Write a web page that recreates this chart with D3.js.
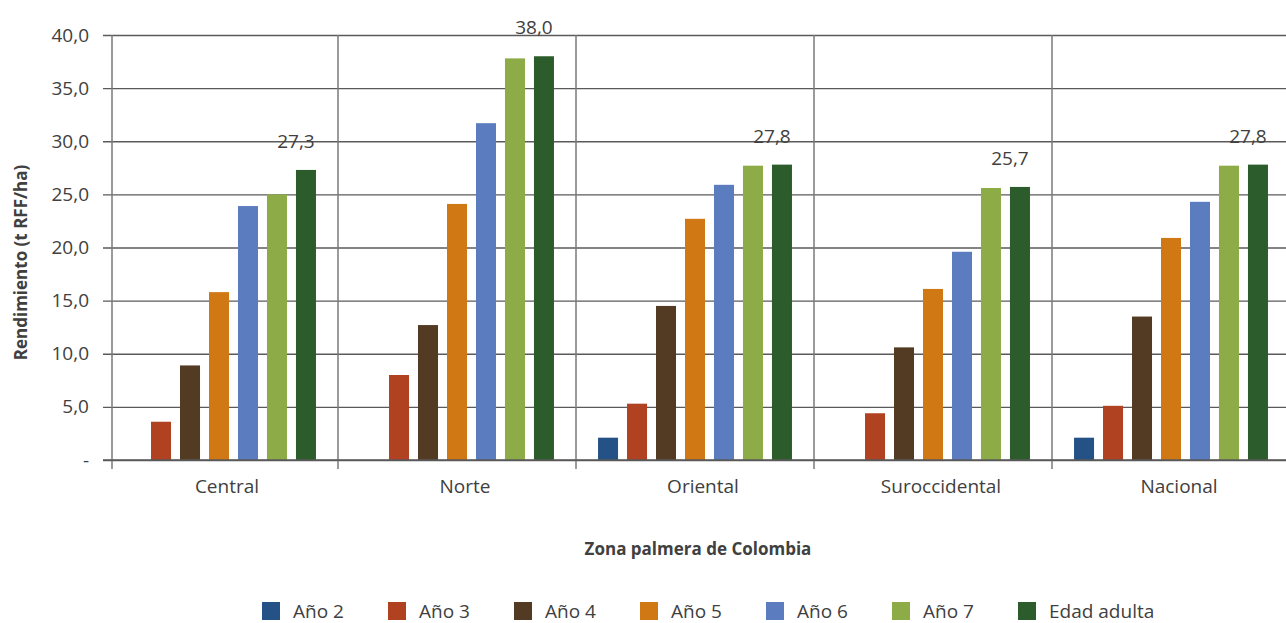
<!DOCTYPE html>
<html>
<head>
<meta charset="utf-8">
<script src="https://cdn.jsdelivr.net/npm/d3@7"></script>
<style>
  html, body { margin: 0; padding: 0; background: #fff; }
  svg { display: block; font-family: "Open Sans", "Noto Sans", sans-serif; }
</style>
</head>
<body>
<svg id="chart" width="1286" height="623"></svg>
<script>
// ---- Data ----
const categorias = ["Central", "Norte", "Oriental", "Suroccidental", "Nacional"];
const series = ["Año 2", "Año 3", "Año 4", "Año 5", "Año 6", "Año 7", "Edad adulta"];
const ano2 = [null, null, 2.1, null, 2.1];
const ano3 = [3.6, 8.0, 5.3, 4.4, 5.1];
const ano4 = [8.9, 12.7, 14.5, 10.6, 13.5];
const ano5 = [15.8, 24.1, 22.7, 16.1, 20.9];
const ano6 = [23.9, 31.7, 25.9, 19.6, 24.3];
const ano7 = [25.0, 37.8, 27.7, 25.6, 27.7];
const edadAdulta = [27.3, 38.0, 27.8, 25.7, 27.8];
const yTicks = [0, 5, 10, 15, 20, 25, 30, 35, 40];
const colores = ["#245286", "#B04221", "#533A22", "#D07813", "#5B7CBF", "#8DAC47", "#2C5C2B"];

const valores = [ano2, ano3, ano4, ano5, ano6, ano7, edadAdulta];

// ---- Layout ----
const svg = d3.select("#chart");
const axisX = 112, mLeft = 100, mRight = 1290, mTop = 35, mBottom = 460;
const textColor = "#404040";

const x0 = d3.scaleBand().domain(categorias).range([mLeft, mRight]).padding(0);
const x1 = d3.scaleBand().domain(series).range([0, x0.bandwidth()])
  .paddingInner(0.31).paddingOuter(0.76);
const y = d3.scaleLinear().domain([0, 40]).range([mBottom, mTop]);
const color = d3.scaleOrdinal().domain(series).range(colores);
const fmt = v => v === 0 ? "-" : d3.format(".1f")(v).replace(".", ",");

// gridlines + y tick labels
const yAxis = d3.axisLeft(y).tickValues(yTicks).tickFormat(fmt)
  .tickSize(-(1286 - 103)).tickPadding(14);
const gy = svg.append("g").attr("transform", `translate(103,0)`).call(yAxis);
gy.select(".domain").remove();
gy.selectAll(".tick line").attr("stroke", "#5a5a5a").attr("stroke-width", 1.3);
gy.selectAll(".tick text").attr("fill", textColor).style("font-size", "19px")
  .attr("font-family", "Open Sans");

// y axis line
svg.append("line").attr("x1", axisX).attr("x2", axisX).attr("y1", mTop).attr("y2", mBottom + 9)
  .attr("stroke", "#7a7a7a").attr("stroke-width", 1.5);

// vertical separators (inner category boundaries)
const bounds = categorias.slice(1).map(c => x0(c));
svg.append("g").selectAll("line").data(bounds).join("line")
  .attr("x1", d => d).attr("x2", d => d)
  .attr("y1", mTop).attr("y2", mBottom + 9)
  .attr("stroke", "#7a7a7a").attr("stroke-width", 1.5);

// bars
const rows = [];
categorias.forEach((c, i) => {
  series.forEach((s, j) => {
    const v = valores[j][i];
    if (v !== null) rows.push({ cat: c, ser: s, v: v });
  });
});
svg.append("g").selectAll("rect").data(rows).join("rect")
  .attr("x", d => x0(d.cat) + x1(d.ser))
  .attr("y", d => y(d.v))
  .attr("width", x1.bandwidth())
  .attr("height", d => y(0) - y(d.v))
  .attr("fill", d => color(d.ser));

// baseline
svg.append("line").attr("x1", 103).attr("x2", 1286).attr("y1", y(0)).attr("y2", y(0))
  .attr("stroke", "#5a5a5a").attr("stroke-width", 1.5);

// value labels for "Edad adulta"
svg.append("g").selectAll("text").data(categorias).join("text")
  .attr("x", (c) => x0(c) + x1("Edad adulta") + x1.bandwidth() / 2 - 10)
  .attr("y", (c, i) => y(edadAdulta[i]) - 22)
  .attr("text-anchor", "middle")
  .attr("fill", textColor).style("font-size", "19px")
  .text((c, i) => fmt(edadAdulta[i]));

// category labels
const xAxis = d3.axisBottom(x0).tickSize(0).tickPadding(0);
const gx = svg.append("g").attr("transform", `translate(8,${mBottom})`).call(xAxis);
gx.select(".domain").remove();
gx.selectAll(".tick text").attr("fill", textColor).style("font-size", "19px")
  .attr("font-family", "Open Sans").attr("dy", null).attr("y", 33);

// axis titles
svg.append("text").attr("x", 698).attr("y", 555).attr("text-anchor", "middle")
  .attr("fill", textColor).style("font-size", "17px").style("font-weight", "bold")
  .text("Zona palmera de Colombia");
svg.append("text").attr("transform", `translate(27,${(mTop + mBottom) / 2 + 15}) rotate(-90)`)
  .attr("text-anchor", "middle")
  .attr("fill", textColor).style("font-size", "17px").style("font-weight", "bold")
  .text("Rendimiento (t RFF/ha)");

// legend
const legend = svg.append("g").attr("transform", "translate(262,602)");
const item = legend.selectAll("g").data(series).join("g")
  .attr("transform", (d, i) => `translate(${i * 126},0)`);
item.append("rect").attr("width", 18).attr("height", 18).attr("fill", d => color(d));
item.append("text").attr("x", 31).attr("y", 16).attr("fill", textColor)
  .style("font-size", "19px").text(d => d);
</script>
</body>
</html>
